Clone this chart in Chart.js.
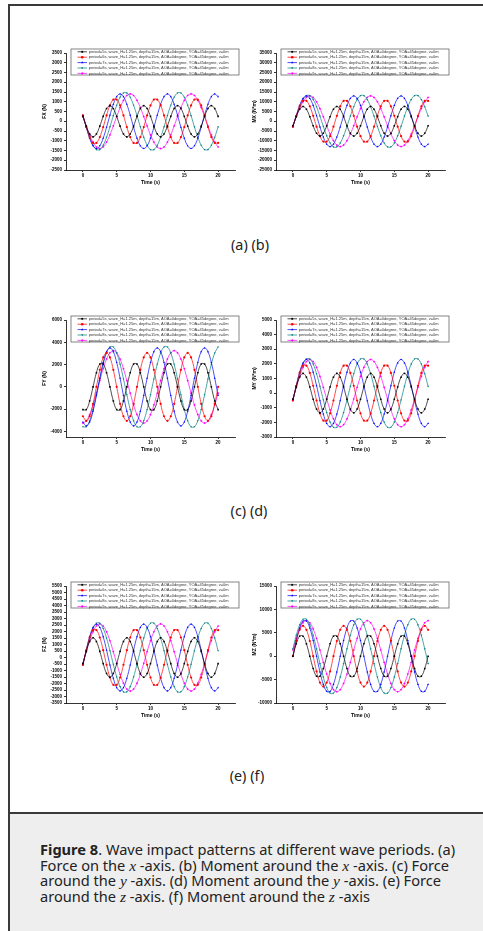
<!DOCTYPE html>
<html>
<head>
<meta charset="utf-8">
<script src="https://cdn.jsdelivr.net/npm/chart.js@4.4.1/dist/chart.umd.min.js"></script>
<style>
  html, body { margin: 0; padding: 0; background: #fff; width: 483px; height: 931px; overflow: hidden; }
  .line { position: absolute; background: #3a3a3a; }
  #capbg { position: absolute; left: 10px; top: 814px; right: 0; bottom: 0; background: #eeeeee; }
  #caption { position: absolute; left: 40px; top: 842px; font-family: "Noto Sans", sans-serif; font-size: 14.6px; line-height: 15.7px; color: #222; white-space: nowrap; }
  #caption i { font-family: "Liberation Serif", serif; font-size: 15.5px; }
  .sub { position: absolute; width: 120px; margin-left: -60px; text-align: center; font-family: "Noto Sans", sans-serif; font-size: 14.4px; color: #222; }
  canvas { position: absolute; }
</style>
</head>
<body>
<div class="line" style="left:9px; top:4px; width:480px; height:2px;"></div>
<div class="line" style="left:8px; top:4px; width:2px; height:930px;"></div>
<div id="capbg"></div>
<div class="line" style="left:9px; top:812px; width:480px; height:2px;"></div>

<canvas id="cFX" width="240" height="165" style="left:10px; top:33px;"></canvas>
<canvas id="cMX" width="240" height="165" style="left:220px; top:33px;"></canvas>
<canvas id="cFY" width="240" height="165" style="left:10px; top:300px;"></canvas>
<canvas id="cMY" width="240" height="165" style="left:220px; top:300px;"></canvas>
<canvas id="cFZ" width="240" height="165" style="left:10px; top:566px;"></canvas>
<canvas id="cMZ" width="240" height="165" style="left:220px; top:566px;"></canvas>

<div class="sub" style="left:250px; top:235px;">(a) (b)</div>
<div class="sub" style="left:249px; top:501px;">(c) (d)</div>
<div class="sub" style="left:247px; top:766px;">(e) (f)</div>

<div id="caption"><b>Figure 8</b>. Wave impact patterns at different wave periods. (a)<br>Force on the <i>x</i> -axis. (b) Moment around the <i>x</i> -axis. (c) Force<br>around the <i>y</i> -axis. (d) Moment around the <i>y</i> -axis. (e) Force<br>around the <i>z</i> -axis. (f) Moment around the <i>z</i> -axis</div>

<script>
// time samples (s)
const TIME = [0,0.5,1,1.5,2,2.5,3,3.5,4,4.5,5,5.5,6,6.5,7,7.5,8,8.5,9,9.5,10,
  10.5,11,11.5,12,12.5,13,13.5,14,14.5,15,15.5,16,16.5,17,17.5,18,18.5,19,19.5,20];

const PERIOD_LABELS = [
  'period=5s, wave_H=1.25m, depth=15m, AOA=0degree, YOA=45degree, v=0m',
  'period=6s, wave_H=1.25m, depth=15m, AOA=0degree, YOA=45degree, v=0m',
  'period=7s, wave_H=1.25m, depth=15m, AOA=0degree, YOA=45degree, v=0m',
  'period=8s, wave_H=1.25m, depth=15m, AOA=0degree, YOA=45degree, v=0m',
  'period=9s, wave_H=1.25m, depth=15m, AOA=0degree, YOA=45degree, v=0m'
];
const COLORS = ['#000000', '#ff0000', '#0000ff', '#008080', '#ff00ff'];
const MARKERS = ['rect', 'circle', 'triangle', 'triangle', 'rectRot'];
const MARKER_ROT = [0, 0, 0, 180, 0];

const X_TICKS = [0, 5, 10, 15, 20];

// (a) FX (N)
const FX_TICKS = [-2500,-2000,-1500,-1000,-500,0,500,1000,1500,2000,2500,3000,3500];
const fx5 = [250,-250,-650,-800,-650,-250,250,650,800,650,
  250,-250,-650,-800,-650,-250,250,650,800,650,
  250,-250,-650,-800,-650,-250,250,650,800,650,
  250,-250,-650,-800,-650,-250,250,650,800,650,
  250];
const fx6 = [300,-300,-810,-1110,-1110,-810,-300,300,810,1110,1110,810,
  300,-300,-810,-1110,-1110,-810,-300,300,810,1110,1110,810,
  300,-300,-810,-1110,-1110,-810,-300,300,810,1110,1110,810,
  300,-300,-810,-1110,-1110];
const fx7 = [310,-310,-870,-1260,-1400,-1260,-870,-310,310,870,1260,1400,1260,870,
  310,-310,-870,-1260,-1400,-1260,-870,-310,310,870,1260,1400,1260,870,
  310,-310,-870,-1260,-1400,-1260,-870,-310,310,870,1260,1400,1260];
const fx8 = [290,-290,-820,-1230,-1450,-1450,-1230,-820,-290,290,820,1230,1450,1450,1230,820,
  290,-290,-820,-1230,-1450,-1450,-1230,-820,-290,290,820,1230,1450,1450,1230,820,
  290,-290,-820,-1230,-1450,-1450,-1230,-820,-290];
const fx9 = [240,-240,-700,-1070,-1320,-1400,-1320,-1070,-700,-240,240,700,1070,1320,1400,1320,1070,700,
  240,-240,-700,-1070,-1320,-1400,-1320,-1070,-700,-240,240,700,1070,1320,1400,1320,1070,700,
  240,-240,-700,-1070,-1320];

// (b) MX (N*m)
const MX_TICKS = [-25000,-20000,-15000,-10000,-5000,0,5000,10000,15000,20000,25000,30000,35000];
const mx5 = [-2350,2350,6150,7600,6150,2350,-2350,-6150,-7600,-6150,
  -2350,2350,6150,7600,6150,2350,-2350,-6150,-7600,-6150,
  -2350,2350,6150,7600,6150,2350,-2350,-6150,-7600,-6150,
  -2350,2350,6150,7600,6150,2350,-2350,-6150,-7600,-6150,
  -2350];
const mx6 = [-2800,2800,7640,10430,10430,7640,2800,-2800,-7640,-10430,-10430,-7640,
  -2800,2800,7640,10430,10430,7640,2800,-2800,-7640,-10430,-10430,-7640,
  -2800,2800,7640,10430,10430,7640,2800,-2800,-7640,-10430,-10430,-7640,
  -2800,2800,7640,10430,10430];
const mx7 = [-2900,2900,8100,11710,13000,11710,8100,2900,-2900,-8100,-11710,-13000,-11710,-8100,
  -2900,2900,8100,11710,13000,11710,8100,2900,-2900,-8100,-11710,-13000,-11710,-8100,
  -2900,2900,8100,11710,13000,11710,8100,2900,-2900,-8100,-11710,-13000,-11710];
const mx8 = [-2610,2610,7450,11140,13150,13150,11140,7450,2610,-2610,-7450,-11140,-13150,-13150,-11140,-7450,
  -2610,2610,7450,11140,13150,13150,11140,7450,2610,-2610,-7450,-11140,-13150,-13150,-11140,-7450,
  -2610,2610,7450,11140,13150,13150,11140,7450,2610];
const mx9 = [-2260,2260,6500,9960,12220,13000,12220,9960,6500,2260,-2260,-6500,-9960,-12220,-13000,-12220,-9960,-6500,
  -2260,2260,6500,9960,12220,13000,12220,9960,6500,2260,-2260,-6500,-9960,-12220,-13000,-12220,-9960,-6500,
  -2260,2260,6500,9960,12220];

// (c) FY (N)
const FY_TICKS = [-4000,-2000,0,2000,4000,6000];
const fy5 = [-2045,-2045,-1265,0,1265,2045,2045,1265,0,-1265,
  -2045,-2045,-1265,0,1265,2045,2045,1265,0,-1265,
  -2045,-2045,-1265,0,1265,2045,2045,1265,0,-1265,
  -2045,-2045,-1265,0,1265,2045,2045,1265,0,-1265,
  -2045];
const fy6 = [-2640,-3050,-2640,-1525,0,1525,2640,3050,2640,1525,0,-1525,
  -2640,-3050,-2640,-1525,0,1525,2640,3050,2640,1525,0,-1525,
  -2640,-3050,-2640,-1525,0,1525,2640,3050,2640,1525,0,-1525,
  -2640,-3050,-2640,-1525,0];
const fy7 = [-3155,-3500,-3155,-2180,-780,780,2180,3155,3500,3155,2180,780,-780,-2180,
  -3155,-3500,-3155,-2180,-780,780,2180,3155,3500,3155,2180,780,-780,-2180,
  -3155,-3500,-3155,-2180,-780,780,2180,3155,3500,3155,2180,780,-780];
const fy8 = [-3580,-3580,-3035,-2030,-710,710,2030,3035,3580,3580,3035,2030,710,-710,-2030,-3035,
  -3580,-3580,-3035,-2030,-710,710,2030,3035,3580,3580,3035,2030,710,-710,-2030,-3035,
  -3580,-3580,-3035,-2030,-710,710,2030,3035,3580];
const fy9 = [-3250,-3055,-2490,-1625,-565,565,1625,2490,3055,3250,3055,2490,1625,565,-565,-1625,-2490,-3055,
  -3250,-3055,-2490,-1625,-565,565,1625,2490,3055,3250,3055,2490,1625,565,-565,-1625,-2490,-3055,
  -3250,-3055,-2490,-1625,-565];

// (d) MY (N*m)
const MY_TICKS = [-3000,-2000,-1000,0,1000,2000,3000,4000,5000];
const my5 = [-420,420,1090,1350,1090,420,-420,-1090,-1350,-1090,
  -420,420,1090,1350,1090,420,-420,-1090,-1350,-1090,
  -420,420,1090,1350,1090,420,-420,-1090,-1350,-1090,
  -420,420,1090,1350,1090,420,-420,-1090,-1350,-1090,
  -420];
const my6 = [-505,505,1380,1880,1880,1380,505,-505,-1380,-1880,-1880,-1380,
  -505,505,1380,1880,1880,1380,505,-505,-1380,-1880,-1880,-1380,
  -505,505,1380,1880,1880,1380,505,-505,-1380,-1880,-1880,-1380,
  -505,505,1380,1880,1880];
const my7 = [-510,510,1430,2070,2300,2070,1430,510,-510,-1430,-2070,-2300,-2070,-1430,
  -510,510,1430,2070,2300,2070,1430,510,-510,-1430,-2070,-2300,-2070,-1430,
  -510,510,1430,2070,2300,2070,1430,510,-510,-1430,-2070,-2300,-2070];
const my8 = [-465,465,1325,1980,2335,2335,1980,1325,465,-465,-1325,-1980,-2335,-2335,-1980,-1325,
  -465,465,1325,1980,2335,2335,1980,1325,465,-465,-1325,-1980,-2335,-2335,-1980,-1325,
  -465,465,1325,1980,2335,2335,1980,1325,465];
const my9 = [-400,400,1150,1760,2160,2300,2160,1760,1150,400,-400,-1150,-1760,-2160,-2300,-2160,-1760,-1150,
  -400,400,1150,1760,2160,2300,2160,1760,1150,400,-400,-1150,-1760,-2160,-2300,-2160,-1760,-1150,
  -400,400,1150,1760,2160];

// (e) FZ (N)
const FZ_TICKS = [-3500,-3000,-2500,-2000,-1500,-1000,-500,0,500,1000,1500,2000,2500,3000,3500,4000,4500,5000,5500];
const fz5 = [-470,470,1230,1520,1230,470,-470,-1230,-1520,-1230,
  -470,470,1230,1520,1230,470,-470,-1230,-1520,-1230,
  -470,470,1230,1520,1230,470,-470,-1230,-1520,-1230,
  -470,470,1230,1520,1230,470,-470,-1230,-1520,-1230,
  -470];
const fz6 = [-565,565,1540,2105,2105,1540,565,-565,-1540,-2105,-2105,-1540,
  -565,565,1540,2105,2105,1540,565,-565,-1540,-2105,-2105,-1540,
  -565,565,1540,2105,2105,1540,565,-565,-1540,-2105,-2105,-1540,
  -565,565,1540,2105,2105];
const fz7 = [-575,575,1600,2315,2570,2315,1600,575,-575,-1600,-2315,-2570,-2315,-1600,
  -575,575,1600,2315,2570,2315,1600,575,-575,-1600,-2315,-2570,-2315,-1600,
  -575,575,1600,2315,2570,2315,1600,575,-575,-1600,-2315,-2570,-2315];
const fz8 = [-525,525,1495,2235,2640,2640,2235,1495,525,-525,-1495,-2235,-2640,-2640,-2235,-1495,
  -525,525,1495,2235,2640,2640,2235,1495,525,-525,-1495,-2235,-2640,-2640,-2235,-1495,
  -525,525,1495,2235,2640,2640,2235,1495,525];
const fz9 = [-450,450,1290,1975,2425,2580,2425,1975,1290,450,-450,-1290,-1975,-2425,-2580,-2425,-1975,-1290,
  -450,450,1290,1975,2425,2580,2425,1975,1290,450,-450,-1290,-1975,-2425,-2580,-2425,-1975,-1290,
  -450,450,1290,1975,2425];

// (f) MZ (N*m)
const MZ_TICKS = [-10000,-5000,0,5000,10000,15000];
const mz5 = [0,2645,4280,4280,2645,0,-2645,-4280,-4280,-2645,
  0,2645,4280,4280,2645,0,-2645,-4280,-4280,-2645,
  0,2645,4280,4280,2645,0,-2645,-4280,-4280,-2645,
  0,2645,4280,4280,2645,0,-2645,-4280,-4280,-2645,
  0];
const mz6 = [0,3250,5630,6500,5630,3250,0,-3250,-5630,-6500,-5630,-3250,
  0,3250,5630,6500,5630,3250,0,-3250,-5630,-6500,-5630,-3250,
  0,3250,5630,6500,5630,3250,0,-3250,-5630,-6500,-5630,-3250,
  0,3250,5630,6500,5630];
const mz7 = [0,3340,6020,7510,7510,6020,3340,0,-3340,-6020,-7510,-7510,-6020,-3340,
  0,3340,6020,7510,7510,6020,3340,0,-3340,-6020,-7510,-7510,-6020,-3340,
  0,3340,6020,7510,7510,6020,3340,0,-3340,-6020,-7510,-7510,-6020];
const mz8 = [1570,4475,6690,7895,7895,6690,4475,1570,-1570,-4475,-6690,-7895,-7895,-6690,-4475,-1570,
  1570,4475,6690,7895,7895,6690,4475,1570,-1570,-4475,-6690,-7895,-7895,-6690,-4475,-1570,
  1570,4475,6690,7895,7895,6690,4475,1570,-1570];
const mz9 = [1320,3800,5820,7145,7600,7145,5820,3800,1320,-1320,-3800,-5820,-7145,-7600,-7145,-5820,-3800,-1320,
  1320,3800,5820,7145,7600,7145,5820,3800,1320,-1320,-3800,-5820,-7145,-7600,-7145,-5820,-3800,-1320,
  1320,3800,5820,7145,7600];

const FONT = '"Liberation Sans", Arial, sans-serif';

// framed legend drawn inside the top of the plot
const boxLegend = {
  id: 'boxLegend',
  afterDraw(chart) {
    const { ctx, chartArea } = chart;
    const x0 = chartArea.left + 5, y0 = chartArea.top - 4;
    ctx.save();
    ctx.fillStyle = '#fff';
    ctx.fillRect(x0, y0, 168, 26);
    ctx.strokeStyle = '#666';
    ctx.lineWidth = 0.8;
    ctx.strokeRect(x0, y0, 168, 26);
    ctx.font = '4px ' + FONT;
    ctx.textBaseline = 'middle';
    chart.data.datasets.forEach((ds, i) => {
      const y = y0 + 2.8 + i * 5.4;
      ctx.strokeStyle = ds.borderColor;
      ctx.lineWidth = 0.7;
      ctx.beginPath();
      ctx.moveTo(x0 + 6.5, y);
      ctx.lineTo(x0 + 16, y);
      ctx.stroke();
      ctx.fillStyle = ds.borderColor;
      Chart.helpers.drawPoint(ctx, { pointStyle: ds.pointStyle, rotation: ds.pointRotation, radius: 1.3, borderWidth: 0 }, x0 + 11.2, y);
      ctx.fillStyle = '#333';
      ctx.fillText(ds.label, x0 + 17.7, y, 147);
    });
    ctx.restore();
  }
};

function makeChart(id, yTitle, yMin, yMax, yTicks, series) {
  const tickFont = { family: FONT, size: 4.5, weight: 'bold' };
  const titleFont = { family: FONT, size: 5, weight: 'bold' };
  return new Chart(document.getElementById(id), {
    type: 'line',
    data: {
      datasets: series.map((vals, i) => ({
        label: PERIOD_LABELS[i],
        data: TIME.map((t, k) => ({ x: t, y: vals[k] })),
        borderColor: COLORS[i],
        backgroundColor: COLORS[i],
        pointStyle: MARKERS[i],
        pointRotation: MARKER_ROT[i],
        pointRadius: 1.1,
        pointBorderWidth: 0,
        borderWidth: 0.7,
        tension: 0.4
      }))
    },
    options: {
      responsive: false,
      animation: false,
      events: [],
      layout: { padding: { left: 32, top: 20, right: 15, bottom: 12 } },
      plugins: { legend: { display: false }, tooltip: { enabled: false } },
      scales: {
        x: {
          type: 'linear', min: -2.5, max: 22.5,
          afterBuildTicks: s => { s.ticks = X_TICKS.map(v => ({ value: v })); },
          afterFit: s => { s.height = 16; },
          grid: { drawOnChartArea: false, drawTicks: true, tickLength: 2, color: '#000', lineWidth: 0.8 },
          border: { display: true, color: '#000', width: 0.8 },
          ticks: { autoSkip: false, maxRotation: 0, padding: 1, color: '#000', font: tickFont, callback: v => String(v) },
          title: { display: true, text: 'Time (s)', padding: 0, color: '#000', font: titleFont }
        },
        y: {
          type: 'linear', min: yMin, max: yMax,
          afterBuildTicks: s => { s.ticks = yTicks.map(v => ({ value: v })); },
          afterFit: s => { s.width = 24; },
          grid: { drawOnChartArea: false, drawTicks: true, tickLength: 2, color: '#000', lineWidth: 0.8 },
          border: { display: true, color: '#000', width: 0.8 },
          ticks: { autoSkip: false, padding: 2, color: '#000', font: tickFont, callback: v => String(v) },
          title: { display: true, text: yTitle, padding: 0, color: '#000', font: titleFont }
        }
      }
    },
    plugins: [boxLegend]
  });
}

makeChart('cFX', 'FX (N)', -2500, 3500, FX_TICKS, [fx5, fx6, fx7, fx8, fx9]);
makeChart('cMX', 'MX (N*m)', -25000, 35000, MX_TICKS, [mx5, mx6, mx7, mx8, mx9]);
makeChart('cFY', 'FY (N)', -4500, 6000, FY_TICKS, [fy5, fy6, fy7, fy8, fy9]);
makeChart('cMY', 'MY (N*m)', -3000, 5000, MY_TICKS, [my5, my6, my7, my8, my9]);
makeChart('cFZ', 'FZ (N)', -3500, 5500, FZ_TICKS, [fz5, fz6, fz7, fz8, fz9]);
makeChart('cMZ', 'MZ (N*m)', -10000, 15000, MZ_TICKS, [mz5, mz6, mz7, mz8, mz9]);
</script>
</body>
</html>
